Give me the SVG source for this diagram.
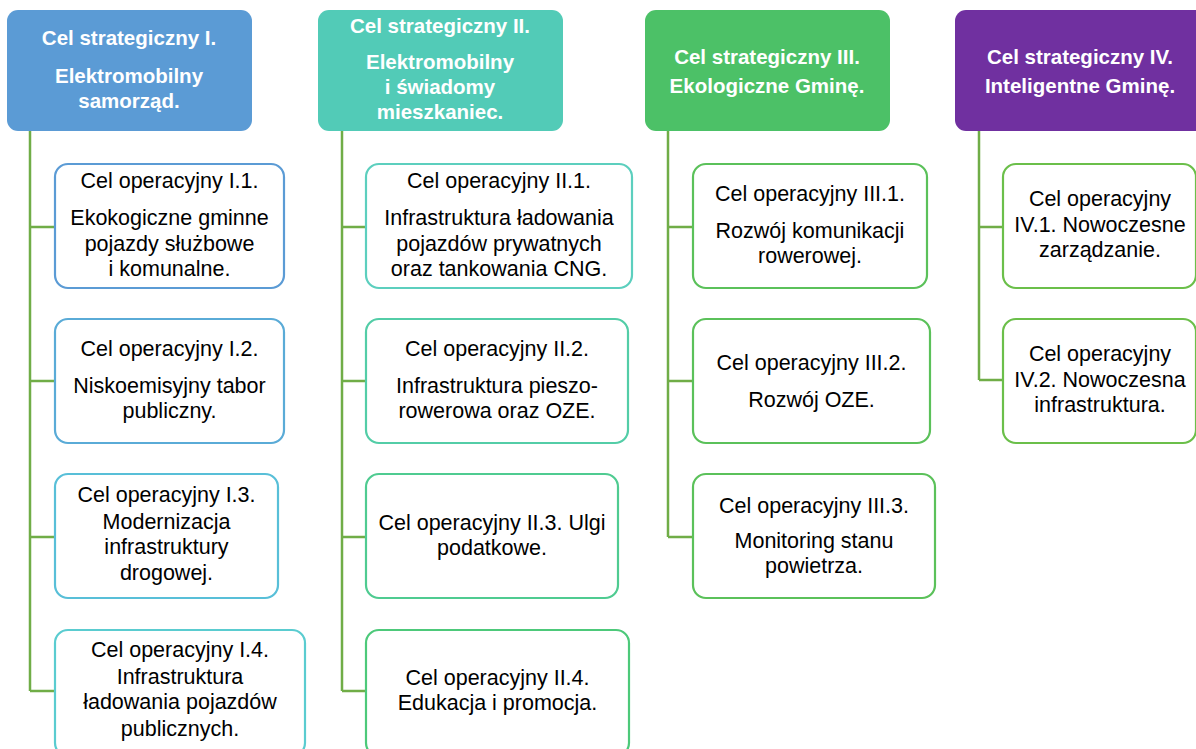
<svg xmlns="http://www.w3.org/2000/svg" width="1196" height="749" viewBox="0 0 1196 749">
<style>
.hd{stroke:none}
.hdt{font-family:"Liberation Sans",Arial,sans-serif;font-weight:bold;font-size:20.5px;fill:#ffffff;text-anchor:middle}
.bx{fill:#ffffff;stroke-width:2.2}
.bt{font-family:"Liberation Sans",Arial,sans-serif;font-size:21.5px;fill:#000000;text-anchor:middle}
.cn{stroke:#70AD47;stroke-width:2.5;fill:none}
</style>
<rect width="1196" height="749" fill="#ffffff"/>
<g id="connectors">
<path class="cn" d="M30 131V691M30 227H55M30 381H55M30 537H55M30 691H55"/>
<path class="cn" d="M342 131V691M342 227H366M342 381H366M342 537H366M342 691H366"/>
<path class="cn" d="M668 131V537M668 227H693M668 381H693M668 537H693"/>
<path class="cn" d="M979 131V380M979 227H1003M979 380H1003"/>
</g>
<g id="s1"><rect class="hd" x="7" y="10" width="245" height="121" rx="11" fill="#5B9BD5"/>
<text class="hdt" x="129" y="45">Cel strategiczny I.</text>
<text class="hdt" x="129" y="83">Elektromobilny</text>
<text class="hdt" x="129" y="108">samorząd.</text></g>
<g id="s2"><rect class="hd" x="318" y="10" width="245" height="121" rx="11" fill="#52CBB7"/>
<text class="hdt" x="440" y="33">Cel strategiczny II.</text>
<text class="hdt" x="440" y="69">Elektromobilny</text>
<text class="hdt" x="440" y="94">i świadomy</text>
<text class="hdt" x="440" y="119">mieszkaniec.</text></g>
<g id="s3"><rect class="hd" x="645" y="10" width="245" height="121" rx="11" fill="#4CC167"/>
<text class="hdt" x="767" y="64">Cel strategiczny III.</text>
<text class="hdt" x="767" y="93">Ekologiczne Gminę.</text></g>
<g id="s4"><rect class="hd" x="955" y="10" width="255" height="121" rx="11" fill="#7030A0"/>
<text class="hdt" x="1080" y="64">Cel strategiczny IV.</text>
<text class="hdt" x="1080" y="93">Inteligentne Gminę.</text></g>

<g id="o11"><rect class="bx" x="55" y="164" width="229" height="124" rx="13" stroke="#5B9BD5"/>
<text class="bt" x="169.5" y="188">Cel operacyjny I.1.</text>
<text class="bt" x="169.5" y="225">Ekokogiczne gminne</text>
<text class="bt" x="169.5" y="251">pojazdy służbowe</text>
<text class="bt" x="169.5" y="276">i komunalne.</text></g>
<g id="o12"><rect class="bx" x="55" y="319" width="229" height="124" rx="13" stroke="#5AABD7"/>
<text class="bt" x="169.5" y="356">Cel operacyjny I.2.</text>
<text class="bt" x="169.5" y="393">Niskoemisyjny tabor</text>
<text class="bt" x="169.5" y="418">publiczny.</text></g>
<g id="o13"><rect class="bx" x="55" y="474" width="223" height="124" rx="13" stroke="#58BFD8"/>
<text class="bt" x="166.5" y="502">Cel operacyjny I.3.</text>
<text class="bt" x="166.5" y="529">Modernizacja</text>
<text class="bt" x="166.5" y="554">infrastruktury</text>
<text class="bt" x="166.5" y="580">drogowej.</text></g>
<g id="o14"><rect class="bx" x="55" y="630" width="250" height="126" rx="13" stroke="#5ACCD0"/>
<text class="bt" x="180" y="657">Cel operacyjny I.4.</text>
<text class="bt" x="180" y="684">Infrastruktura</text>
<text class="bt" x="180" y="709">ładowania pojazdów</text>
<text class="bt" x="180" y="736">publicznych.</text></g>

<g id="o21"><rect class="bx" x="366" y="164" width="266" height="124" rx="13" stroke="#5CCFBE"/>
<text class="bt" x="499" y="188">Cel operacyjny II.1.</text>
<text class="bt" x="499" y="225">Infrastruktura ładowania</text>
<text class="bt" x="499" y="251">pojazdów prywatnych</text>
<text class="bt" x="499" y="276">oraz tankowania CNG.</text></g>
<g id="o22"><rect class="bx" x="366" y="319" width="262" height="124" rx="13" stroke="#53CDA7"/>
<text class="bt" x="497" y="356">Cel operacyjny II.2.</text>
<text class="bt" x="497" y="393">Infrastruktura pieszo-</text>
<text class="bt" x="497" y="418">rowerowa oraz OZE.</text></g>
<g id="o23"><rect class="bx" x="366" y="474" width="252" height="124" rx="13" stroke="#4FCB91"/>
<text class="bt" x="492" y="530">Cel operacyjny II.3. Ulgi</text>
<text class="bt" x="492" y="555">podatkowe.</text></g>
<g id="o24"><rect class="bx" x="366" y="630" width="263" height="126" rx="13" stroke="#4DC97A"/>
<text class="bt" x="497.5" y="685">Cel operacyjny II.4.</text>
<text class="bt" x="497.5" y="710">Edukacja i promocja.</text></g>

<g id="o31"><rect class="bx" x="693" y="164" width="234" height="124" rx="13" stroke="#5BC15A"/>
<text class="bt" x="810" y="201">Cel operacyjny III.1.</text>
<text class="bt" x="810" y="238">Rozwój komunikacji</text>
<text class="bt" x="810" y="263">rowerowej.</text></g>
<g id="o32"><rect class="bx" x="693" y="319" width="237" height="124" rx="13" stroke="#5BC15A"/>
<text class="bt" x="811.5" y="370">Cel operacyjny III.2.</text>
<text class="bt" x="811.5" y="407">Rozwój OZE.</text></g>
<g id="o33"><rect class="bx" x="693" y="474" width="242" height="124" rx="13" stroke="#5BC15A"/>
<text class="bt" x="814" y="513">Cel operacyjny III.3.</text>
<text class="bt" x="814" y="548">Monitoring stanu</text>
<text class="bt" x="814" y="573">powietrza.</text></g>

<g id="o41"><rect class="bx" x="1003" y="164" width="193" height="124" rx="13" stroke="#6BBF4A"/>
<text class="bt" x="1100" y="206">Cel operacyjny</text>
<text class="bt" x="1100" y="232">IV.1. Nowoczesne</text>
<text class="bt" x="1100" y="257">zarządzanie.</text></g>
<g id="o42"><rect class="bx" x="1003" y="319" width="193" height="124" rx="13" stroke="#6BBF4A"/>
<text class="bt" x="1100" y="361">Cel operacyjny</text>
<text class="bt" x="1100" y="387">IV.2. Nowoczesna</text>
<text class="bt" x="1100" y="412">infrastruktura.</text></g>
</svg>
